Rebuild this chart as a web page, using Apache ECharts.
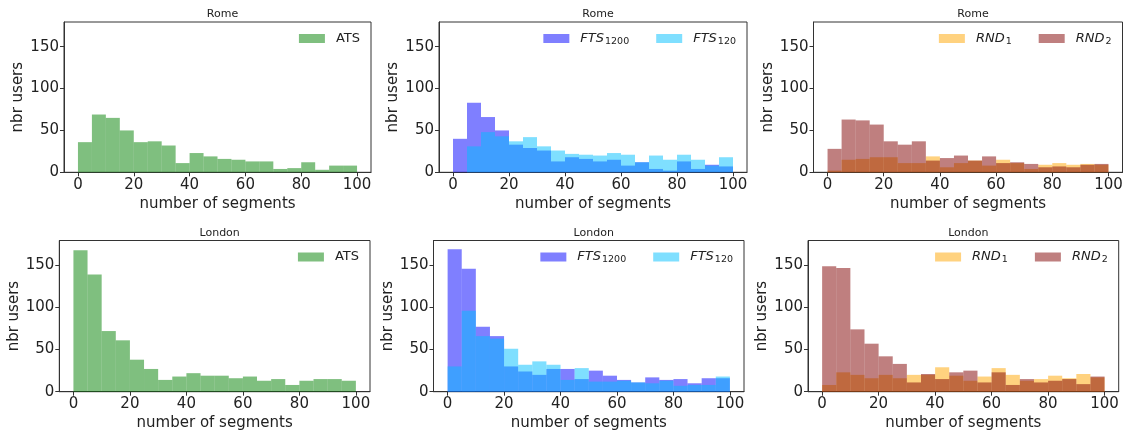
<!DOCTYPE html>
<html>
<head>
<meta charset="utf-8">
<script src="https://cdn.jsdelivr.net/npm/echarts@6/dist/echarts.min.js"></script>
<style>
html,body{margin:0;padding:0;background:#fff;}
#chart{width:1128px;height:434px;}
</style>
</head>
<body>
<div id="chart"></div>
<script>
// ---- data ----
const binEdges = [0,5,10,15,20,25,30,35,40,45,50,55,60,65,70,75,80,85,90,95,100];
const xTicks = [0,20,40,60,80,100];
const yTicks = [0,50,100,150];
const cities = ['Rome','London'];

const romeATS      = [36,69,65,50,36,37,32,11,23,19,16,15,13,13,4,5,12,3,8,8];
const romeFTS1200  = [40,83,66,50,33,29,26,13,18,16,13,15,8,12,4,2,13,4,9,7];
const romeFTS120   = [0,31,48,43,37,42,31,26,22,21,20,23,21,12,20,15,21,15,8,18];
const romeRND1     = [2,15,16,18,18,11,11,19,6,11,14,8,15,11,4,9,11,9,10,9];
const romeRND2     = [28,63,62,57,37,33,37,14,17,20,14,19,11,12,10,6,7,6,9,10];

const londonATS     = [168,139,72,61,38,27,14,18,22,19,19,16,18,13,15,8,13,15,15,13];
const londonFTS1200 = [169,146,77,66,30,24,20,27,27,15,25,19,14,11,17,14,15,10,16,16];
const londonFTS120  = [30,96,66,63,51,32,36,32,14,28,12,12,13,11,10,13,7,8,8,18];
const londonRND1    = [8,23,20,16,20,16,20,20,29,19,13,18,28,20,13,15,19,16,21,17];
const londonRND2    = [149,147,74,57,42,33,11,21,15,23,25,11,23,8,15,11,13,15,9,18];

const xLabel = 'number of segments';
const yLabel = 'nbr users';

// ---- layout / style ----
const FONT = 'DejaVu Sans';
const grids = [
  {left:64,   top:22,    width:307,   height:150.3},
  {left:439,  top:22,    width:308,   height:150.3},
  {left:813.5,top:22,    width:309,   height:150.3},
  {left:59.3, top:240.5, width:310.7, height:151.2},
  {left:433.5,top:240.5, width:310.5, height:151.2},
  {left:808,  top:240.5, width:310.7, height:151.2}
];
const colors = {
  ATS:'rgba(0,128,0,0.5)',
  FTS1200:'rgba(0,0,255,0.5)',
  FTS120:'rgba(0,191,255,0.5)',
  RND1:'rgba(255,165,0,0.5)',
  RND2:'rgba(128,0,0,0.5)'
};
const labels = {
  ATS:'{p|ATS}',
  FTS1200:'{i|FTS}{s|1200}',
  FTS120:'{i|FTS}{s|120}',
  RND1:'{i|RND}{s|1}',
  RND2:'{i|RND}{s|2}'
};

const panels = [
  {city:0, series:[['ATS',romeATS]]},
  {city:0, series:[['FTS1200',romeFTS1200],['FTS120',romeFTS120]]},
  {city:0, series:[['RND1',romeRND1],['RND2',romeRND2]]},
  {city:1, series:[['ATS',londonATS]]},
  {city:1, series:[['FTS1200',londonFTS1200],['FTS120',londonFTS120]]},
  {city:1, series:[['RND1',londonRND1],['RND2',londonRND2]]}
];

function histData(vals){
  return vals.map((v,i)=>[binEdges[i], binEdges[i+1], v]);
}
function renderItem(params, api){
  const p0 = api.coord([api.value(0), api.value(2)]);
  const p1 = api.coord([api.value(1), 0]);
  return {
    type:'rect',
    shape:{x:p0[0], y:p0[1], width:p1[0]-p0[0], height:p1[1]-p0[1]},
    style:{fill:api.visual('color')}
  };
}

const option = {
  animation:false,
  backgroundColor:'#fff',
  title:[], grid:[], xAxis:[], yAxis:[], legend:[], series:[]
};

panels.forEach((p,k)=>{
  const g = grids[k];
  option.grid.push({left:g.left, top:g.top, width:g.width, height:g.height,
    show:true, borderColor:'#333', borderWidth:1, containLabel:false});
  option.title.push({
    text:cities[p.city], left:g.left+g.width/2, textAlign:'center',
    top:g.top-18,
    textStyle:{fontFamily:FONT, fontSize:11, fontWeight:'normal', color:'#222'}
  });
  option.xAxis.push({
    type:'value', gridIndex:k, min:-5, max:105,
    name:xLabel, nameLocation:'middle', nameGap:24,
    nameTextStyle:{fontFamily:FONT, fontSize:15, color:'#222'},
    axisLine:{show:true, onZero:false, lineStyle:{color:'#333', width:1}},
    axisTick:{show:true, length:4, customValues:xTicks, lineStyle:{color:'#333'}},
    axisLabel:{customValues:xTicks, fontFamily:FONT, fontSize:15, color:'#222', margin:5},
    splitLine:{show:false}
  });
  option.yAxis.push({
    type:'value', gridIndex:k, min:0, max:179.5,
    name:yLabel, nameLocation:'middle', nameGap:38,
    nameTextStyle:{fontFamily:FONT, fontSize:15, color:'#222'},
    axisLine:{show:true, onZero:false, lineStyle:{color:'#333', width:1}},
    axisTick:{show:true, length:4, customValues:yTicks, lineStyle:{color:'#333'}},
    axisLabel:{customValues:yTicks, fontFamily:FONT, fontSize:15, color:'#222', margin:5},
    splitLine:{show:false}
  });
  const names = [];
  p.series.forEach(([key, vals])=>{
    const name = key + '_' + k;
    names.push(name);
    option.series.push({
      type:'custom', name:name, xAxisIndex:k, yAxisIndex:k,
      renderItem:renderItem,
      itemStyle:{color:colors[key]},
      encode:{x:[0,1], y:2},
      data:histData(vals)
    });
  });
  option.legend.push({
    data:names.map(n=>({name:n, icon:'rect'})),
    orient:'horizontal',
    right:1128-(g.left+g.width)+11,
    top:g.top+10,
    padding:0,
    itemWidth:26, itemHeight:9, itemGap:27,
    selectedMode:false,
    formatter:(n)=>labels[n.split('_')[0]],
    textStyle:{fontFamily:FONT, fontSize:13, color:'#222',
      padding:[0,0,0,6],
      rich:{
        p:{fontFamily:FONT, fontSize:13, color:'#222', lineHeight:18, verticalAlign:'middle'},
        i:{fontFamily:FONT, fontSize:13, fontStyle:'italic', color:'#222', lineHeight:18, verticalAlign:'middle'},
        s:{fontFamily:FONT, fontSize:9.5, color:'#222', lineHeight:18, verticalAlign:'bottom', padding:[0,0,1,1]}
      }}
  });
});

const chart = echarts.init(document.getElementById('chart'), null, {renderer:'canvas'});
chart.setOption(option);
</script>
</body>
</html>
